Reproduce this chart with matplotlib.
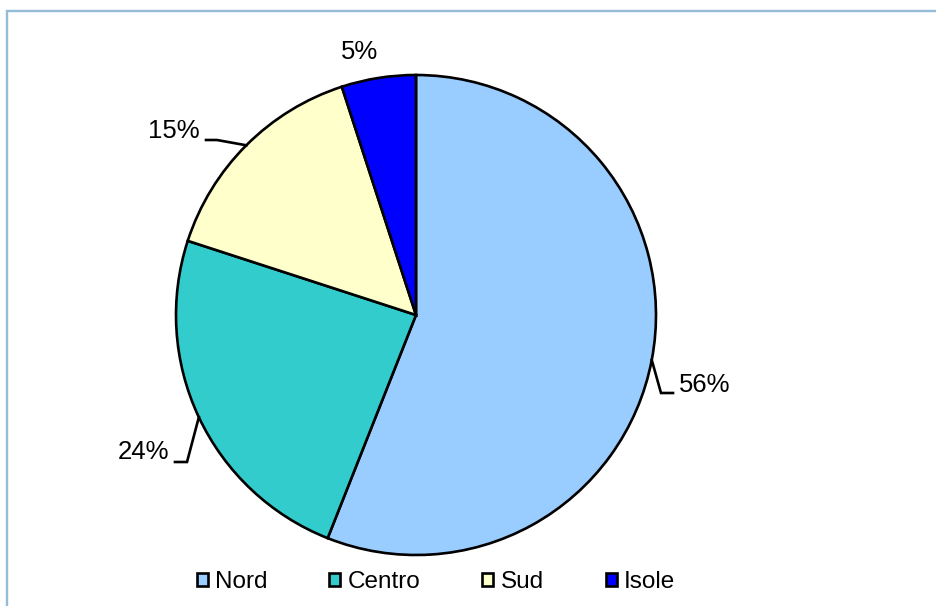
import matplotlib
matplotlib.use('Agg')
import matplotlib.pyplot as plt
import numpy as np
from matplotlib.patches import Rectangle

categories = ['Nord', 'Centro', 'Sud', 'Isole']
values = [56, 24, 15, 5]
pct_labels = ['56%', '24%', '15%', '5%']
colors = ['#99CCFF', '#33CCCC', '#FFFFCC', '#0000FF']

W, H = 937, 606
plt.rcParams['font.family'] = ['Liberation Sans', 'DejaVu Sans']

fig = plt.figure(figsize=(W / 100, H / 100), dpi=100)
ax = fig.add_axes([0, 0, 1, 1])

cx, cy, R = 416, H - 315, 240
wedges, _ = ax.pie(values, colors=colors, startangle=90, counterclock=False,
                   center=(cx, cy), radius=R,
                   wedgeprops=dict(edgecolor='black', linewidth=1.9))
ax.set_xlim(0, W)
ax.set_ylim(0, H)
ax.set_aspect('equal')
ax.axis('off')

# label layout: (elbow, end, text position, ha)  in pixel coords from top
layout = [
    ((661, 393), (673, 393), (679, 385), 'left'),
    ((187, 462), (175, 462), (169, 452), 'right'),
    ((217, 140), (206, 140), (200, 131), 'right'),
    (None, None, (360, 52), 'center'),
]

for w, lab, (elb, end, tpos, ha) in zip(wedges, pct_labels, layout):
    mid = np.deg2rad((w.theta1 + w.theta2) / 2)
    ex, ey = cx + R * np.cos(mid), cy + R * np.sin(mid)
    if elb is not None:
        ax.plot([ex, elb[0], end[0]], [ey, H - elb[1], H - end[1]],
                color='black', lw=1.9, solid_joinstyle='miter')
    ax.text(tpos[0], H - tpos[1], lab, ha=ha, va='center', fontsize=18.5,
            color='black')

fig.legend(wedges, categories, loc='center', bbox_to_anchor=(436 / W, 24 / H),
           ncol=4, frameon=False, handlelength=0.45, handleheight=0.45,
           handletextpad=0.3, columnspacing=2.55, fontsize=17.5)

# outer frame (only left and top visible)
fig.patches.append(Rectangle((7 / W, -0.5), 2, 1.5 - 11 / H, transform=fig.transFigure,
                             fill=False, edgecolor='#95BCD6', linewidth=1.7))

fig.savefig('out.png', dpi=100)
